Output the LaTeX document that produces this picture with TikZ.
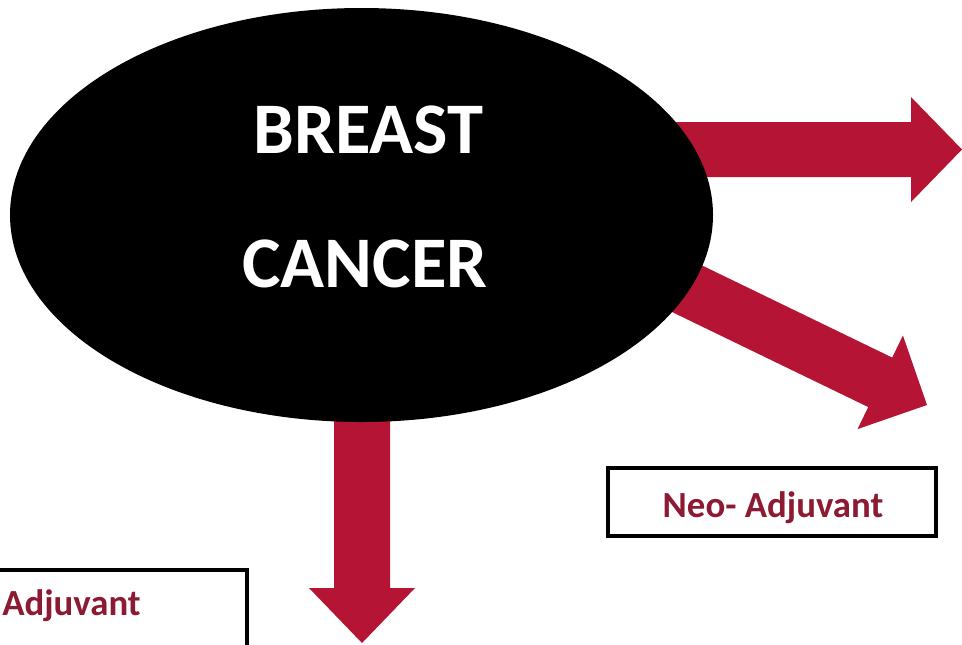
\documentclass[tikz,border=0pt]{standalone}
\usepackage{fontspec}
\setmainfont{Carlito}
\usetikzlibrary{shapes.geometric}
\definecolor{arrowred}{RGB}{181,20,52}
\definecolor{labelred}{RGB}{140,26,51}
\tikzset{
  blockarrow/.style={fill=arrowred, draw=none},
  mainlabel/.style={text=white, font=\fontsize{54.5}{60}\selectfont\bfseries, inner sep=0pt},
  boxlabel/.style={text=labelred, font=\fontsize{27.6}{32}\selectfont\bfseries, inner sep=0pt},
  labelbox/.style={draw=black, line width=3pt, fill=white}
}
\begin{document}
\begin{tikzpicture}[x=0.75pt, y=-0.75pt]
\useasboundingbox (0,0) rectangle (962,644);
\clip (0,0) rectangle (962,644);
% block arrows (behind the ellipse)
\coordinate (rtip) at (962,149.5);
\coordinate (dtip) at (927,405);
\coordinate (btip) at (362,643);
\fill[blockarrow] (600,122) -- (911,122) -- (911,97) -- (rtip) -- (911,202) -- (911,177) -- (600,177) -- cycle;
\fill[blockarrow] (622.2,226.75) -- (892.2,357.55) -- (902.9,335.5) -- (dtip) -- (857.5,429.1) -- (868.2,407.05) -- (598.2,276.25) -- cycle;
\fill[blockarrow] (334,300) -- (334,588) -- (309,588) -- (btip) -- (415,588) -- (390,588) -- (390,300) -- cycle;
% ellipse
\node[ellipse, fill=black, draw=none, minimum width=527.25pt, minimum height=310.5pt, inner sep=0pt] (bc) at (361.5,215) {};
\node[mainlabel, anchor=base] (t1) at (368.5,153) {BREAST};
\node[mainlabel, anchor=base] (t2) at (365,287) {CANCER};
% label boxes
\draw[labelbox] (608,468) rectangle (936,536);
\node[boxlabel, anchor=base] (neo) at (773,517) {Neo- Adjuvant};
\draw[labelbox] (-90,569.5) rectangle (246.5,660);
\node[boxlabel, anchor=base west] (adj) at (2,615) {Adjuvant};
\end{tikzpicture}
\end{document}
